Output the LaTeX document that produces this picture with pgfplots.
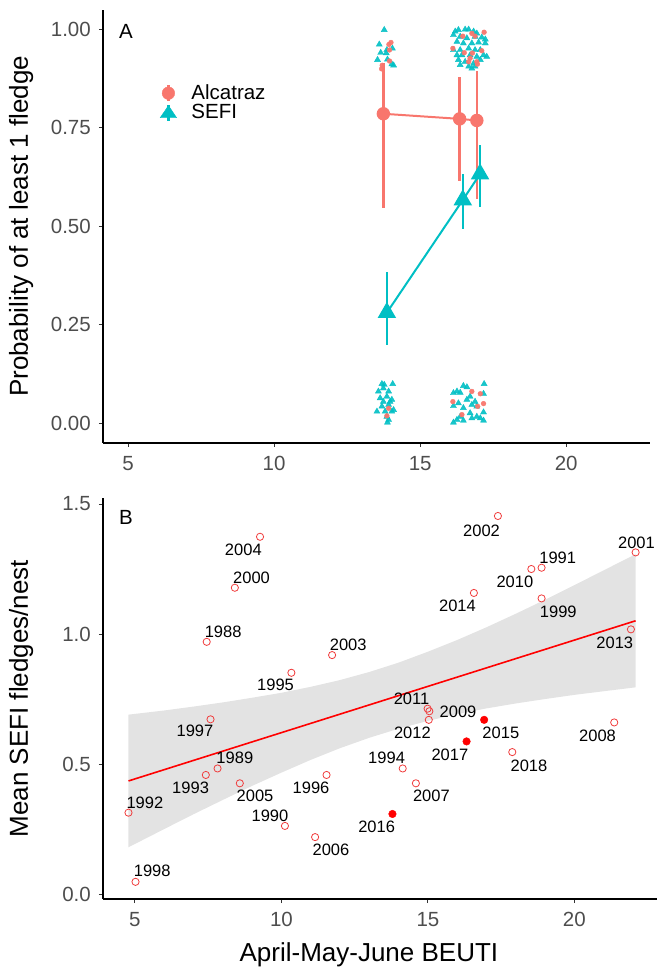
\documentclass[border=0pt]{standalone}
\usepackage{fontspec}
\setmainfont{Liberation Sans}
\usepackage{pgfplots}
\pgfplotsset{compat=1.18}
\definecolor{salmon}{HTML}{F8766D}
\definecolor{teal2}{HTML}{00BFC4}
\definecolor{tickgray}{HTML}{4D4D4D}
\definecolor{bandgray}{HTML}{E3E3E3}
\definecolor{ptred}{HTML}{F03C3C}
\newcommand\fs[1]{\fontsize{#1bp}{#1bp}\selectfont}

\pgfplotstableread{
x y
13.77 0.999
13.60 0.962
14.05 0.952
13.86 0.948
13.65 0.941
13.84 0.940
13.54 0.923
13.88 0.924
14.03 0.912
14.09 0.909
16.20 0.995
16.31 0.999
16.54 1.000
16.66 1.000
16.83 0.995
16.94 0.990
16.14 0.986
16.37 0.982
16.60 0.978
16.88 0.982
17.11 0.980
17.23 0.975
16.26 0.969
16.48 0.965
16.77 0.965
17.00 0.967
17.23 0.965
16.14 0.948
16.37 0.948
16.66 0.952
16.88 0.948
17.06 0.948
16.26 0.935
16.43 0.935
16.71 0.935
16.94 0.931
17.17 0.935
17.28 0.931
16.31 0.923
16.54 0.918
16.83 0.914
17.06 0.923
16.37 0.910
16.66 0.906
16.77 0.901
16.88 0.906
13.69 0.100
13.77 0.098
14.06 0.100
13.57 0.081
13.92 0.081
13.74 0.089
13.63 0.064
13.86 0.068
14.03 0.060
13.74 0.055
13.97 0.055
13.69 0.043
13.92 0.047
14.09 0.034
13.52 0.030
13.80 0.030
14.03 0.030
13.86 0.017
13.92 0.009
13.88 0.002
17.19 0.100
16.48 0.095
16.60 0.092
16.26 0.081
16.14 0.077
16.37 0.078
17.17 0.075
16.71 0.068
16.31 0.051
16.60 0.060
16.88 0.055
16.77 0.047
16.94 0.043
16.14 0.044
16.48 0.039
17.17 0.028
16.71 0.026
16.37 0.017
16.26 0.009
16.14 0.002
16.48 0.007
16.77 0.013
17.06 0.013
17.17 0.007
16.94 0.017
}\sefijit

\pgfplotstableread{
x y
14.00 0.967
13.93 0.962
13.95 0.948
13.95 0.920
13.70 0.909
13.68 0.900
16.46 0.983
16.77 0.990
16.88 0.983
17.19 0.993
16.12 0.952
16.51 0.941
16.79 0.940
17.11 0.946
16.71 0.927
16.66 0.918
16.94 0.918
16.96 0.912
13.92 0.038
13.86 0.019
16.77 0.081
17.06 0.075
16.12 0.055
17.17 0.050
16.97 0.043
16.43 0.022
}\alcjit

\pgfplotstableread{
year x y lx ly
1988 7.45 0.970 8.01 1.009
1989 7.82 0.483 8.41 0.524
1990 10.12 0.262 9.61 0.300
1991 18.88 1.255 19.43 1.292
1992 4.78 0.313 5.34 0.351
1993 7.42 0.458 6.90 0.409
1994 14.14 0.483 13.59 0.524
1995 10.34 0.851 9.80 0.803
1996 11.54 0.458 11.01 0.409
1997 7.58 0.672 7.05 0.626
1998 5.02 0.047 5.59 0.089
1999 18.88 1.137 19.45 1.085
2000 8.41 1.178 8.98 1.216
2001 22.09 1.314 22.12 1.350
2002 17.39 1.454 16.83 1.398
2003 11.73 0.919 12.28 0.958
2004 9.27 1.374 8.70 1.322
2005 8.58 0.426 9.10 0.379
2006 11.15 0.219 11.69 0.171
2007 14.59 0.426 15.12 0.377
2008 21.36 0.660 20.79 0.609
2009 15.05 0.703 16.03 0.702
2010 18.53 1.250 17.97 1.200
2011 14.99 0.713 14.44 0.750
2012 15.03 0.670 14.47 0.620
2013 21.93 1.018 21.38 0.967
2014 16.57 1.158 16.01 1.107
2018 17.88 0.546 18.45 0.494
}\openpts

\pgfplotstableread{
year x y lx ly
2015 16.92 0.670 17.49 0.620
2016 13.79 0.308 13.25 0.258
2017 16.32 0.587 15.75 0.536
}\filledpts

\pgfplotstableread{
x y
4.78 0.690
6 0.706
7 0.721
8 0.737
9 0.755
10 0.774
11 0.797
12 0.823
13 0.854
14 0.890
15 0.932
16 0.977
17 1.026
18 1.078
19 1.132
20 1.188
21 1.245
22.09 1.307
22.09 0.795
21 0.780
20 0.766
19 0.750
18 0.733
17 0.714
16 0.692
15 0.666
14 0.636
13 0.601
12 0.561
11 0.516
10 0.467
9 0.416
8 0.362
7 0.307
6 0.250
4.78 0.180
}\band

\begin{document}
\begin{tikzpicture}
\useasboundingbox (0bp,0bp) rectangle (657bp,970bp);
\pgfplotsset{every axis/.append style={
  scale only axis, axis x line*=bottom, axis y line*=left,
  axis line style={line width=1.4bp,-},
  tick align=outside, major tick length=4bp,
  tick style={line width=1bp, black!80},
  tick label style={font=\fs{20.5}, text=tickgray, inner sep=0pt},
  /pgf/number format/assume math mode=true,
  xtick={5,10,15,20}, xticklabel shift=9bp, yticklabel shift=8bp,
  label style={font=\fs{26}, inner sep=0pt},
  clip=false,
}}

% Panel A
\begin{axis}[at={(103bp,527bp)}, anchor=south west, width=547bp, height=433.2bp,
  xmin=4.14, xmax=22.87, ymin=-0.05, ymax=1.05,
  ytick={0,0.25,0.5,0.75,1},
  yticklabel style={/pgf/number format/fixed, /pgf/number format/fixed zerofill, /pgf/number format/precision=2},
  ylabel={Probability of at least 1 fledge},
  ylabel style={at={(axis description cs:-0.1271,0.5)}, anchor=south},
  legend style={at={(axis cs:6.086,0.862)}, anchor=north west, draw=none, fill=none,
    inner sep=0pt, font=\fs{20.5}, row sep=1bp, column sep=0pt,
    nodes={inner sep=1bp}},
  legend cell align=left,
]
\addlegendimage{legend image code/.code={
  \path[draw=none,fill=none] (0,-9bp) rectangle (29bp,9bp);
  \draw[salmon, line width=2.3bp] (7bp,-8bp)--(7bp,8bp);
  \fill[salmon] (7bp,0) circle (6.3bp);}}
\addlegendentry{Alcatraz}
\addlegendimage{legend image code/.code={
  \path[draw=none,fill=none] (0,-9bp) rectangle (29bp,9bp);
  \draw[teal2, line width=2.3bp] (7bp,-8bp)--(7bp,8bp);
  \fill[teal2] (7bp,7bp)--(-1.2bp,-5.2bp)--(15.2bp,-5.2bp)--cycle;}}
\addlegendentry{SEFI}

\addplot[only marks, mark=triangle*, mark size=3.5bp, color=teal2, opacity=0.9, forget plot] table[x=x,y=y] {\sefijit};
\addplot[only marks, mark=*, mark size=2.4bp, color=salmon, opacity=0.95, forget plot] table[x=x,y=y] {\alcjit};

\addplot[salmon, line width=2bp, mark=*, mark size=5.7bp, forget plot,
  error bars/.cd, y dir=both, y explicit, error mark=none,
  error bar style={line width=2.3bp, salmon}]
  coordinates {(13.74,0.786) += (0,0.128) -= (0,0.240)
               (16.35,0.773) += (0,0.106) -= (0,0.158)
               (16.94,0.769) += (0,0.126) -= (0,0.199)};
\addplot[teal2, line width=2bp, mark=triangle*, mark size=8.7bp, forget plot,
  error bars/.cd, y dir=both, y explicit, error mark=none,
  error bar style={line width=2.3bp, teal2}]
  coordinates {(13.86,0.281) += (0,0.102) -= (0,0.082)
               (16.46,0.567) += (0,0.066) -= (0,0.073)
               (17.05,0.633) += (0,0.074) -= (0,0.084)};
\node[font=\fs{20.5}, inner sep=0pt] at (axis cs:4.93,0.994) {A};
\end{axis}

% Panel B
\begin{axis}[at={(103bp,71bp)}, anchor=south west, width=554bp, height=400.7bp,
  xmin=3.91, xmax=22.82, ymin=-0.019, ymax=1.522,
  ytick={0,0.5,1,1.5},
  yticklabel style={/pgf/number format/fixed, /pgf/number format/fixed zerofill, /pgf/number format/precision=1},
  ylabel={Mean SEFI fledges/nest},
  ylabel style={at={(axis description cs:-0.1255,0.5)}, anchor=south},
  xlabel={April-May-June BEUTI},
  xlabel style={at={(axis description cs:0.48,-0.1572)}, anchor=base},
]
\addplot[fill=bandgray, draw=none] table[x=x,y=y] {\band};
\addplot[red, line width=1.6bp] coordinates {(4.78,0.435) (22.09,1.051)};
\addplot[only marks, mark=o, color=ptred, mark size=3.6bp, mark options={line width=0.8bp}] table[x=x,y=y] {\openpts};
\addplot[only marks, mark=*, color=red, mark size=3.8bp] table[x=x,y=y] {\filledpts};
\addplot[only marks, mark=none, nodes near coords, point meta=explicit symbolic,
  every node near coord/.style={anchor=center, inner sep=0pt, font=\fs{16.5}, text=black}]
  table[x=lx, y=ly, meta=year] {\openpts};
\addplot[only marks, mark=none, nodes near coords, point meta=explicit symbolic,
  every node near coord/.style={anchor=center, inner sep=0pt, font=\fs{16.5}, text=black}]
  table[x=lx, y=ly, meta=year] {\filledpts};
\node[font=\fs{20.5}, inner sep=0pt] at (axis cs:4.69,1.450) {B};
\end{axis}
\end{tikzpicture}
\end{document}
